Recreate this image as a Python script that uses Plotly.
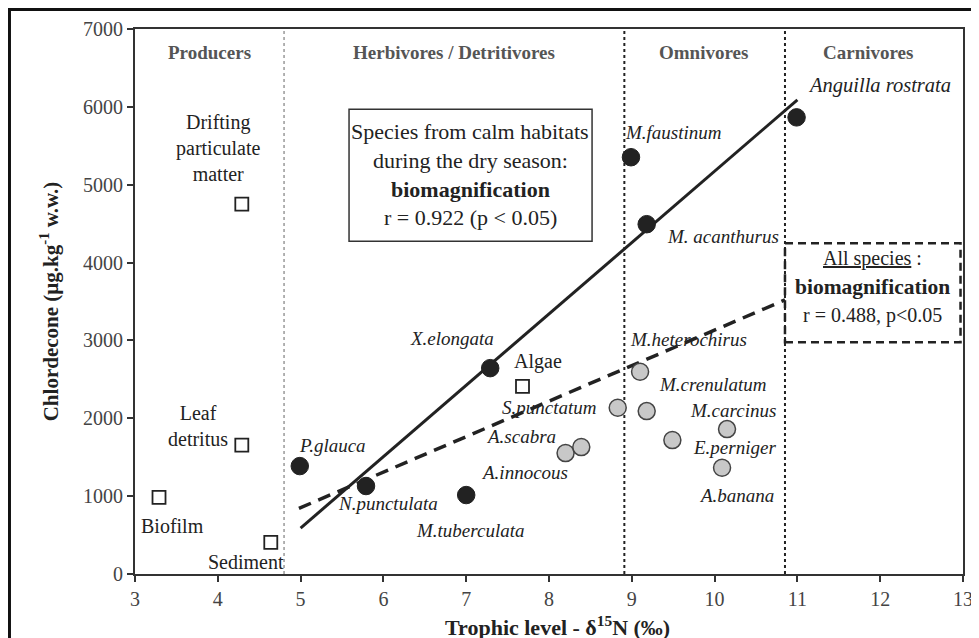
import plotly.graph_objects as go

# ---------------- data ----------------
producer_names = ["Drifting<br>particulate<br>matter", "Leaf<br>detritus", "Biofilm", "Sediment", "Algae"]
producer_x = [4.29, 4.29, 3.29, 4.64, 7.68]
producer_y = [4750, 1655, 985, 407, 2410]

calm_names = ["P.glauca", "N.punctulata", "M.tuberculata", "X.elongata",
              "M.faustinum", "M. acanthurus", "Anguilla rostrata"]
calm_x = [4.99, 5.79, 7.0, 7.29, 8.99, 9.18, 10.99]
calm_y = [1386, 1130, 1014, 2644, 5353, 4493, 5865]

other_names = ["A.innocous", "A.scabra", "S.punctatum", "M.heterochirus",
               "M.crenulatum", "E.perniger", "M.carcinus", "A.banana"]
other_x = [8.20, 8.39, 8.83, 9.10, 9.18, 9.49, 10.15, 10.09]
other_y = [1553, 1630, 2135, 2597, 2092, 1720, 1861, 1365]

calm_fit_x = [5.0, 11.0]
calm_fit_y = [590, 6090]
all_fit_x = [4.98, 10.85]
all_fit_y = [843, 3520]

group_names = ["Producers", "Herbivores / Detritivores", "Omnivores", "Carnivores"]
group_bounds = [4.80, 8.91, 10.85]

x_ticks = list(range(3, 14))
y_ticks = list(range(0, 7001, 1000))

# ---------------- label placement (style) ----------------
producer_label_pos = [(4.01, 5470), (3.76, 1900), (3.45, 616), (4.34, 154), (7.87, 2725)]
calm_label_pos = [(5.39, 1656), (6.06, 911), (7.05, 560), (6.83, 3030),
                  (9.50, 5674), (10.10, 4339), (11.99, 6277)]
other_label_pos = [(7.71, 1301), (7.66, 1771), (8.00, 2144), (9.68, 3017),
                   (9.97, 2439), (10.24, 1630), (10.22, 2097), (10.26, 1014)]
group_label_x = [3.90, 6.85, 9.86, 11.85]

SERIF = "Liberation Serif"

fig = go.Figure()

# regression lines
fig.add_trace(go.Scatter(x=all_fit_x, y=all_fit_y, mode="lines",
                         line=dict(color="#222", width=3.5, dash="13px,8px"),
                         showlegend=False, hoverinfo="skip"))
fig.add_trace(go.Scatter(x=calm_fit_x, y=calm_fit_y, mode="lines",
                         line=dict(color="#222", width=3),
                         showlegend=False, hoverinfo="skip"))

# points
fig.add_trace(go.Scatter(x=producer_x, y=producer_y, mode="markers",
                         marker=dict(symbol="square", size=13, color="white",
                                     line=dict(color="#222", width=1.8)),
                         showlegend=False))
fig.add_trace(go.Scatter(x=other_x, y=other_y, mode="markers",
                         marker=dict(symbol="circle", size=17, color="#c8c8c8",
                                     line=dict(color="#444", width=1.5)),
                         showlegend=False))
fig.add_trace(go.Scatter(x=calm_x, y=calm_y, mode="markers",
                         marker=dict(symbol="circle", size=17.5, color="#222",
                                     line=dict(color="#222", width=1)),
                         showlegend=False))

annotations = []
for name, (lx, ly) in zip(producer_names, producer_label_pos):
    annotations.append(dict(x=lx, y=ly, text=name, showarrow=False,
                            font=dict(family=SERIF, size=20, color="#222"),
                            align="center"))
for name, (lx, ly) in zip(calm_names + other_names, calm_label_pos + other_label_pos):
    fs = 20.5 if name == "Anguilla rostrata" else 19
    annotations.append(dict(x=lx, y=ly, text="<i>" + name + "</i>", showarrow=False,
                            font=dict(family=SERIF, size=fs, color="#222")))
for name, gx in zip(group_names, group_label_x):
    annotations.append(dict(x=gx, y=6700, text="<b>" + name + "</b>", showarrow=False,
                            font=dict(family=SERIF, size=19, color="#555")))

# solid box text
box1_lines = [("Species from calm habitats", 5687), ("during the dry season:", 5315),
              ("<b>biomagnification</b>", 4942), ("r = 0.922 (p < 0.05)", 4583)]
for t, yy in box1_lines:
    annotations.append(dict(x=7.05, y=yy, text=t, showarrow=False,
                            font=dict(family=SERIF, size=22, color="#222")))
# dashed box text
box2_lines = [("<u>All species</u> :", 4056, 20), ("<b>biomagnification</b>", 3684, 21.5),
              ("r = 0.488, p<0.05", 3325, 20)]
for t, yy, fs in box2_lines:
    annotations.append(dict(x=11.91, y=yy, text=t, showarrow=False,
                            font=dict(family=SERIF, size=fs, color="#222")))

# x-axis title
annotations.append(dict(xref="paper", yref="paper", x=0.5097, y=-0.0945,
                        xanchor="center", yanchor="middle", showarrow=False,
                        text="<b>Trophic level - δ<sup>15</sup>N (‰)</b>",
                        font=dict(family=SERIF, size=22, color="#222")))

shapes = []
for i, gb in enumerate(group_bounds):
    shapes.append(dict(type="line", xref="x", yref="y", x0=gb, x1=gb, y0=0, y1=7000,
                       line=dict(color="#666" if i == 0 else "#222",
                                 width=1 if i == 0 else 2, dash="dot"),
                       layer="below"))
shapes.append(dict(type="rect", xref="x", yref="y", x0=5.585, x1=8.52, y0=4275, y1=5970,
                   line=dict(color="#333", width=1.5)))
shapes.append(dict(type="rect", xref="x", yref="y", x0=10.85, x1=12.97, y0=2978, y1=4249,
                   line=dict(color="#222", width=2.5, dash="8px,5px")))
# outer figure frame
shapes.append(dict(type="rect", xref="paper", yref="paper", x0=-0.1516, x1=1.05,
                   y0=-0.16, y1=1.0358, line=dict(color="#111", width=3)))

fig.update_layout(
    width=979, height=638,
    margin=dict(l=127, r=24, t=21, b=72, autoexpand=False),
    plot_bgcolor="white", paper_bgcolor="white",
    annotations=annotations, shapes=shapes,
    font=dict(family=SERIF, size=20, color="#333"),
    xaxis=dict(range=[3, 13], tickvals=x_ticks, ticks="outside", ticklen=6,
               tickwidth=2, tickcolor="#333", showline=True, linecolor="#333",
               linewidth=2, mirror=True, showgrid=False, zeroline=False,
               automargin=False,
               tickfont=dict(family=SERIF, size=20, color="#444")),
    yaxis=dict(range=[0, 7000], tickvals=y_ticks, ticks="outside", ticklen=6,
               tickwidth=2, tickcolor="#333", showline=True, linecolor="#333",
               linewidth=2, mirror=True, showgrid=False, zeroline=False,
               automargin=False,
               tickfont=dict(family=SERIF, size=20, color="#444"),
               title=dict(text="<b>Chlordecone (µg.kg<sup>-1</sup> w.w.)</b>",
                          font=dict(family=SERIF, size=21, color="#222"), standoff=19)),
)

fig.write_html("out.html")
